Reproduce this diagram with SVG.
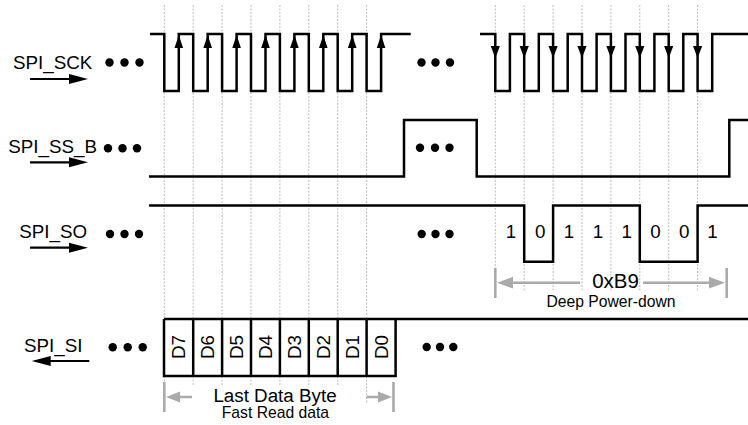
<svg xmlns="http://www.w3.org/2000/svg" width="748" height="425" viewBox="0 0 748 425">
<style>
text{font-family:"Liberation Sans",Arial,Helvetica,sans-serif;fill:#000}
.lbl{font-size:18.8px}
.big{font-size:20.5px}
.sm{font-size:15.7px}
.grid{stroke:#b4b4b4;stroke-width:0.9;stroke-dasharray:2 1.5;fill:none}
.wave{stroke:#000;stroke-width:2.5;fill:none;stroke-linejoin:miter}
.dim{stroke:#aaaaaa;stroke-width:2.6;fill:none}
.dimh{fill:#aaaaaa}
.sig{stroke:#000;stroke-width:2.2;fill:none}
.dot{fill:#000}
</style>
<defs>
<polygon id="up" points="0,-1 -4.3,12 4.3,12"/>
<polygon id="dn" points="0,12 -4.6,0 4.6,0"/>
<polygon id="ahr" points="0,0 -19,-5 -19,5"/>
<polygon id="ahl" points="0,0 19,-5 19,5"/>
</defs>

<g id="gridlines">
<path class="grid" d="M164.3,5V383 M193.2,5V385 M222.1,5V385 M251,5V385 M279.9,5V385 M308.8,5V385 M337.7,5V385 M366.6,5V403"/>
<path class="grid" d="M495.3,5V268 M524.2,5V292 M553.1,5V292 M582,5V292 M610.9,5V292 M639.8,5V292 M668.7,5V292 M697.6,5V292"/>
</g>

<g id="spi_sck">
<text class="lbl" x="13" y="69">SPI_SCK</text>
<line class="sig" x1="30" y1="79" x2="72" y2="79"/>
<use href="#ahr" x="88" y="79"/>
<circle class="dot" cx="109.5" cy="62.5" r="4.2"/><circle class="dot" cx="124.5" cy="62.5" r="4.2"/><circle class="dot" cx="139.5" cy="62.5" r="4.2"/>
<path class="wave" d="M150,34H164.3V91H178.8V34H193.2V91H207.7V34H222.1V91H236.6V34H251V91H265.5V34H279.9V91H294.4V34H308.8V91H323.3V34H337.7V91H352.2V34H366.6V91H381.1V34H410.7"/>
<use href="#up" x="178.8" y="36"/><use href="#up" x="207.7" y="36"/><use href="#up" x="236.6" y="36"/><use href="#up" x="265.5" y="36"/><use href="#up" x="294.4" y="36"/><use href="#up" x="323.3" y="36"/><use href="#up" x="352.2" y="36"/><use href="#up" x="381.1" y="36"/>
<circle class="dot" cx="421.5" cy="62.5" r="4.2"/><circle class="dot" cx="435.5" cy="62.5" r="4.2"/><circle class="dot" cx="450" cy="62.5" r="4.2"/>
<path class="wave" d="M480,34H495.3V91H509.9V34H524.2V91H538.8V34H553.1V91H567.7V34H582V91H596.6V34H610.9V91H625.5V34H639.8V91H654.4V34H668.7V91H683.3V34H697.6V91H712.2V34H748"/>
<use href="#dn" x="495.3" y="46"/><use href="#dn" x="524.2" y="46"/><use href="#dn" x="553.1" y="46"/><use href="#dn" x="582" y="46"/><use href="#dn" x="610.9" y="46"/><use href="#dn" x="639.8" y="46"/><use href="#dn" x="668.7" y="46"/><use href="#dn" x="697.6" y="46"/>
</g>

<g id="spi_ss_b">
<text class="lbl" x="8.3" y="153.3">SPI_SS_B</text>
<line class="sig" x1="30" y1="162.3" x2="72" y2="162.3"/>
<use href="#ahr" x="88" y="162.3"/>
<circle class="dot" cx="108" cy="148.3" r="4.2"/><circle class="dot" cx="122.5" cy="148.3" r="4.2"/><circle class="dot" cx="137" cy="148.3" r="4.2"/>
<path class="wave" d="M149,176.5H404V120H476.7V176.5H729.3V120H748"/>
<circle class="dot" cx="420" cy="147.7" r="4.2"/><circle class="dot" cx="435" cy="147.7" r="4.2"/><circle class="dot" cx="449.5" cy="147.7" r="4.2"/>
</g>

<g id="spi_so">
<text class="lbl" x="19.3" y="238.3">SPI_SO</text>
<line class="sig" x1="30" y1="247.7" x2="72" y2="247.7"/>
<use href="#ahr" x="88" y="247.7"/>
<circle class="dot" cx="110" cy="234" r="4.2"/><circle class="dot" cx="124.5" cy="234" r="4.2"/><circle class="dot" cx="139" cy="234" r="4.2"/>
<path class="wave" d="M149,205.5H524.2V261.7H553.1V205.5H639.8V261.7H697.6V205.5H748"/>
<circle class="dot" cx="421.7" cy="234" r="4.2"/><circle class="dot" cx="435.5" cy="234" r="4.2"/><circle class="dot" cx="449.5" cy="234" r="4.2"/>
<g class="lbl" text-anchor="middle">
<text x="511" y="238.3">1</text><text x="540.2" y="238.3">0</text><text x="569" y="238.3">1</text><text x="598" y="238.3">1</text><text x="626.8" y="238.3">1</text><text x="655.6" y="238.3">0</text><text x="684.3" y="238.3">0</text><text x="712.5" y="238.3">1</text>
</g>
</g>

<g id="dim_b9">
<path class="dim" d="M495.3,268V298 M726.7,268V298 M512,282.7H580 M643,282.7H709"/>
<polygon class="dimh" points="497,282.7 513,276.8 513,288.6"/>
<polygon class="dimh" points="725,282.7 709,276.8 709,288.6"/>
<text class="big" x="615.5" y="288" text-anchor="middle">0xB9</text>
<text class="sm" x="611" y="306.5" text-anchor="middle">Deep Power-down</text>
</g>

<g id="spi_si">
<text class="lbl" x="24" y="352">SPI_SI</text>
<line class="sig" x1="48" y1="361" x2="89.3" y2="361"/>
<use href="#ahl" x="31.7" y="361"/>
<circle class="dot" cx="112.7" cy="347.3" r="4.2"/><circle class="dot" cx="127.7" cy="347.3" r="4.2"/><circle class="dot" cx="142.7" cy="347.3" r="4.2"/>
<path class="wave" d="M164,319H748 M164,319V376H395.6V319 M193.2,319V376 M222.1,319V376 M251,319V376 M279.9,319V376 M308.8,319V376 M337.7,319V376 M366.6,319V376"/>
<g class="lbl" text-anchor="middle">
<text transform="translate(178.5,347) rotate(-90)" y="6.7">D7</text>
<text transform="translate(207.7,347) rotate(-90)" y="6.7">D6</text>
<text transform="translate(236.6,347) rotate(-90)" y="6.7">D5</text>
<text transform="translate(265.5,347) rotate(-90)" y="6.7">D4</text>
<text transform="translate(294.4,347) rotate(-90)" y="6.7">D3</text>
<text transform="translate(323.3,347) rotate(-90)" y="6.7">D2</text>
<text transform="translate(352.2,347) rotate(-90)" y="6.7">D1</text>
<text transform="translate(381.1,347) rotate(-90)" y="6.7">D0</text>
</g>
<circle class="dot" cx="426.7" cy="347" r="4.2"/><circle class="dot" cx="440" cy="347" r="4.2"/><circle class="dot" cx="453.3" cy="347" r="4.2"/>
</g>

<g id="dim_byte">
<path class="dim" d="M164.3,382V412 M393.5,382V412 M178,397H192 M366.6,397H380"/>
<polygon class="dimh" points="166,397 180,391.5 180,402.5"/>
<polygon class="dimh" points="392,397 378,391.5 378,402.5"/>
<text class="lbl" x="275" y="401.7" text-anchor="middle">Last Data Byte</text>
<text class="sm" x="275.4" y="418.3" text-anchor="middle">Fast Read data</text>
</g>
</svg>
